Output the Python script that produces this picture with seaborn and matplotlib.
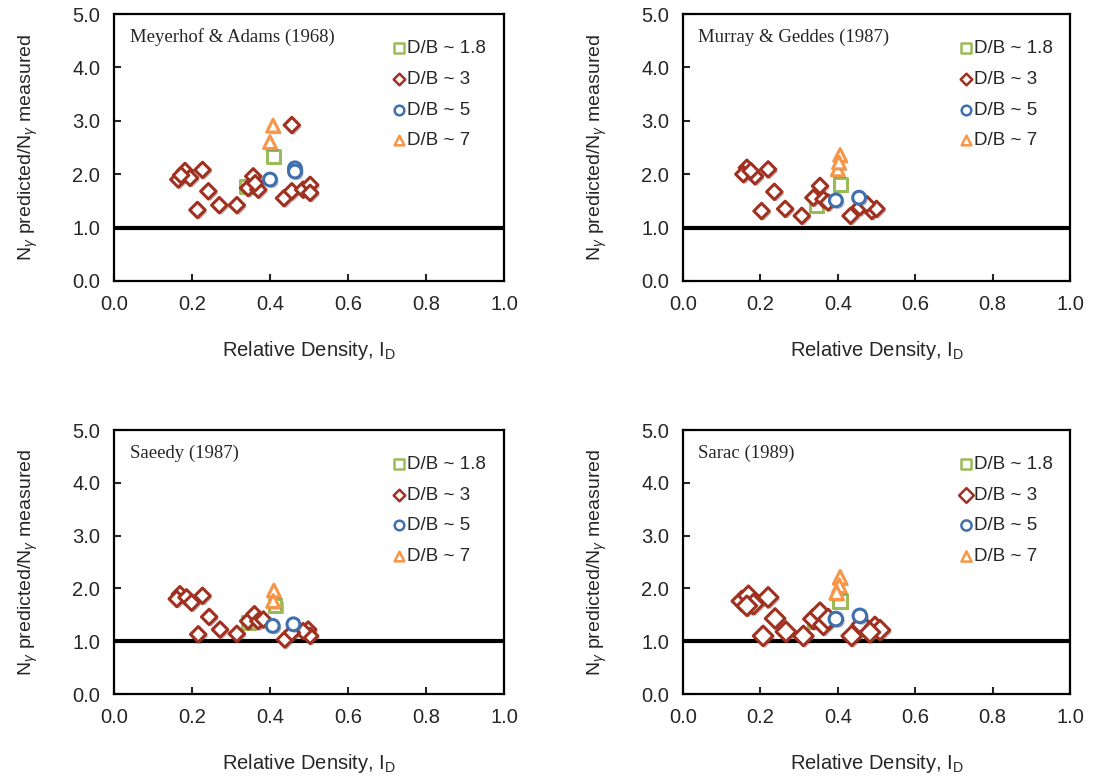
import numpy as np
import pandas as pd
import seaborn as sns
import matplotlib.pyplot as plt
import matplotlib.patheffects as pe

# Meyerhof & Adams (1968)
ma_sq_x = [0.41, 0.34]
ma_sq_y = [2.33, 1.77]
ma_di_x = [0.165, 0.182, 0.195, 0.172, 0.227, 0.242, 0.214, 0.27, 0.315, 0.357, 0.344, 0.37, 0.362,
           0.436, 0.456, 0.485, 0.503, 0.503, 0.456]
ma_di_y = [1.90, 2.06, 1.93, 1.98, 2.08, 1.68, 1.33, 1.42, 1.42, 1.96, 1.74, 1.71, 1.83,
           1.55, 1.68, 1.71, 1.80, 1.65, 2.92]
ma_ci_x = [0.464, 0.464, 0.40]
ma_ci_y = [2.11, 2.05, 1.90]
ma_tr_x = [0.408, 0.40]
ma_tr_y = [2.91, 2.60]

# Murray & Geddes (1987)
mg_sq_x = [0.345, 0.406]
mg_sq_y = [1.41, 1.81]
mg_di_x = [0.165, 0.156, 0.186, 0.175, 0.22, 0.236, 0.203, 0.264, 0.307, 0.354, 0.337, 0.363, 0.375,
           0.433, 0.457, 0.488, 0.50, 0.475]
mg_di_y = [2.12, 2.00, 1.96, 2.06, 2.09, 1.67, 1.31, 1.35, 1.22, 1.78, 1.56, 1.53, 1.47,
           1.22, 1.38, 1.31, 1.35, 1.44]
mg_ci_x = [0.395, 0.455]
mg_ci_y = [1.51, 1.56]
mg_tr_x = [0.406, 0.40, 0.403]
mg_tr_y = [2.36, 2.09, 2.22]

# Saeedy (1987)
sa_sq_x = [0.413, 0.344]
sa_sq_y = [1.67, 1.35]
sa_di_x = [0.169, 0.161, 0.186, 0.199, 0.227, 0.244, 0.216, 0.272, 0.315, 0.344, 0.36, 0.37, 0.383,
           0.438, 0.498, 0.503, 0.485, 0.456]
sa_di_y = [1.89, 1.80, 1.83, 1.73, 1.86, 1.46, 1.13, 1.22, 1.14, 1.38, 1.51, 1.38, 1.41,
           1.03, 1.22, 1.10, 1.19, 1.16]
sa_ci_x = [0.407, 0.46]
sa_ci_y = [1.29, 1.32]
sa_tr_x = [0.41, 0.408]
sa_tr_y = [1.96, 1.76]

# Sarac (1989)
sr_sq_x = [0.406, 0.34]
sr_sq_y = [1.76, 1.38]
sr_di_x = [0.152, 0.169, 0.182, 0.165, 0.22, 0.238, 0.207, 0.266, 0.311, 0.337, 0.354, 0.363, 0.375,
           0.436, 0.462, 0.496, 0.509, 0.483]
sr_di_y = [1.76, 1.86, 1.70, 1.67, 1.83, 1.43, 1.10, 1.18, 1.10, 1.42, 1.54, 1.31, 1.42,
           1.10, 1.31, 1.27, 1.21, 1.17]
sr_ci_x = [0.395, 0.457]
sr_ci_y = [1.42, 1.48]
sr_tr_x = [0.406, 0.404, 0.397]
sr_tr_y = [2.21, 2.05, 1.92]

titles = ['Meyerhof & Adams (1968)', 'Murray & Geddes (1987)', 'Saeedy (1987)', 'Sarac (1989)']
labels = ['D/B ~ 1.8', 'D/B ~ 3', 'D/B ~ 5', 'D/B ~ 7']
colors = ['#9BBB59', '#A0301F', '#3F6FAE', '#F79646']
markers = ['s', 'D', 'o', '^']

panels = [
    [(ma_sq_x, ma_sq_y), (ma_di_x, ma_di_y), (ma_ci_x, ma_ci_y), (ma_tr_x, ma_tr_y)],
    [(mg_sq_x, mg_sq_y), (mg_di_x, mg_di_y), (mg_ci_x, mg_ci_y), (mg_tr_x, mg_tr_y)],
    [(sa_sq_x, sa_sq_y), (sa_di_x, sa_di_y), (sa_ci_x, sa_ci_y), (sa_tr_x, sa_tr_y)],
    [(sr_sq_x, sr_sq_y), (sr_di_x, sr_di_y), (sr_ci_x, sr_ci_y), (sr_tr_x, sr_tr_y)],
]

sns.set_style('white')
plt.rcParams['font.family'] = ['Liberation Sans', 'DejaVu Sans']
plt.rcParams['mathtext.fontset'] = 'custom'
plt.rcParams['mathtext.rm'] = 'Liberation Sans'
plt.rcParams['mathtext.it'] = 'Liberation Sans:italic'

fig = plt.figure(figsize=(11, 7.84), dpi=100)
rects = [
    [114/1100, 1 - 281/784, 390/1100, 267/784],
    [683/1100, 1 - 281/784, 387/1100, 267/784],
    [114/1100, 1 - 694/784, 390/1100, 264/784],
    [683/1100, 1 - 694/784, 387/1100, 264/784],
]
# marker areas per panel: (diamond, others)
sizes = [(62, 85), (62, 85), (62, 85), (100, 95)]
shadow = [pe.SimplePatchShadow(offset=(1.5, -1.5), shadow_rgbFace='0.3', alpha=0.4), pe.Normal()]

for i, rect in enumerate(rects):
    ax = fig.add_axes(rect)
    ax.axhline(1.0, color='black', lw=3, zorder=1)
    for (xs, ys), lab, col, m in zip(panels[i], labels, colors, markers):
        df = pd.DataFrame({'ID': xs, 'ratio': ys})
        sz = sizes[i][0] if m == 'D' else sizes[i][1]
        sns.scatterplot(data=df, x='ID', y='ratio', ax=ax, marker=m, s=sz, color=col,
                        facecolor='white', edgecolor=col, linewidth=2.2, label=lab, zorder=3)
        ax.collections[-1].set_path_effects(shadow)
    ax.set_xlim(0, 1)
    ax.set_ylim(0, 5)
    ax.set_xticks(np.arange(0, 1.01, 0.2))
    ax.set_yticks(np.arange(0, 5.01, 1.0))
    ax.xaxis.set_major_formatter(plt.FormatStrFormatter('%.1f'))
    ax.yaxis.set_major_formatter(plt.FormatStrFormatter('%.1f'))
    ax.tick_params(direction='in', length=5, width=1.5, labelsize=14.5, pad=10,
                   bottom=True, left=True, top=False, right=False)
    for sp in ax.spines.values():
        sp.set_linewidth(1.6)
        sp.set_color('black')
    ax.set_xlabel('Relative Density, I$_\\mathrm{D}$', fontsize=14.5, labelpad=18)
    ax.set_ylabel('N$_\\gamma$ predicted/N$_\\gamma$ measured', fontsize=14, labelpad=23)
    ax.text(0.04, 0.912, titles[i], transform=ax.transAxes, family=['Liberation Serif', 'DejaVu Serif'],
            fontsize=13.5, va='center', ha='left')
    leg = ax.legend(loc='upper left', bbox_to_anchor=(0.695, 0.93), frameon=False, fontsize=13.5,
                    handletextpad=0.05, handlelength=0.7, labelspacing=0.72, borderaxespad=0,
                    markerscale=0.75)
    for h in leg.legend_handles:
        h.set_path_effects([])
        h.set_linewidth(1.8)

fig.savefig('out.png', dpi=100, facecolor='white')
